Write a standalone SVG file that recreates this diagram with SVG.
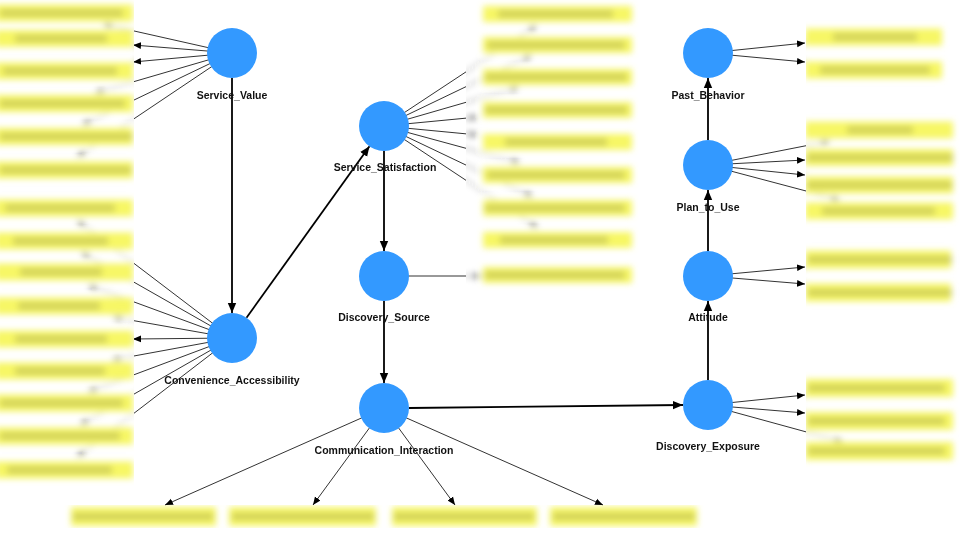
<svg xmlns="http://www.w3.org/2000/svg" xmlns:xlink="http://www.w3.org/1999/xlink" width="960" height="539" viewBox="0 0 960 539">
<style>
.thin{stroke:#333;stroke-width:1;fill:none;marker-end:url(#ah)}
.thick{stroke:#000;stroke-width:1.8;fill:none;marker-end:url(#AH)}
.node{fill:#3399FF}
.lbl{font-family:"Liberation Sans",Arial,sans-serif;font-weight:bold;font-size:10.5px;fill:#111;text-anchor:middle}
.box{fill:#F7F765}
.strip{fill:#A8A850;opacity:0.5}
</style>
<defs>
<marker id="ah" markerUnits="userSpaceOnUse" markerWidth="9" markerHeight="8" refX="8" refY="4" orient="auto"><path d="M0,0.6 L8,4 L0,7.4z" fill="#000"/></marker>
<marker id="AH" markerUnits="userSpaceOnUse" markerWidth="11" markerHeight="10" refX="10" refY="5" orient="auto"><path d="M0,0.8 L10,5 L0,9.2z" fill="#000"/></marker>
<filter id="blur" x="-10%" y="-10%" width="120%" height="120%"><feGaussianBlur stdDeviation="3"/></filter>
<clipPath id="sharp"><path clip-rule="evenodd" d="M-20,-20H980V560H-20Z M-20,-20H134V486H-20Z M466,-20H645V292H466Z M806,18H980V470H806Z"/></clipPath>
<clipPath id="inside"><path d="M-20,-20H134V486H-20Z M466,-20H645V292H466Z M806,18H980V470H806Z"/></clipPath>
</defs>
<rect width="960" height="539" fill="#fff"/>

<g clip-path="url(#sharp)">
<g id="connectors">
<line class="thin" x1="232" y1="53" x2="103" y2="24"/>
<line class="thin" x1="232" y1="53" x2="133" y2="45"/>
<line class="thin" x1="232" y1="53" x2="133" y2="62"/>
<line class="thin" x1="232" y1="53" x2="95" y2="93"/>
<line class="thin" x1="232" y1="53" x2="82" y2="125"/>
<line class="thin" x1="232" y1="53" x2="77" y2="157"/>
<line class="thin" x1="232" y1="338" x2="77" y2="220"/>
<line class="thin" x1="232" y1="338" x2="81" y2="252"/>
<line class="thin" x1="232" y1="338" x2="88" y2="285"/>
<line class="thin" x1="232" y1="338" x2="113" y2="317"/>
<line class="thin" x1="232" y1="338" x2="133" y2="339"/>
<line class="thin" x1="232" y1="338" x2="112" y2="360"/>
<line class="thin" x1="232" y1="338" x2="88" y2="392"/>
<line class="thin" x1="232" y1="338" x2="80" y2="425"/>
<line class="thin" x1="232" y1="338" x2="77" y2="457"/>
<line class="thin" x1="384" y1="126" x2="537" y2="25"/>
<line class="thin" x1="384" y1="126" x2="532" y2="55"/>
<line class="thin" x1="384" y1="126" x2="519" y2="87"/>
<line class="thin" x1="384" y1="126" x2="478" y2="117"/>
<line class="thin" x1="384" y1="126" x2="478" y2="135"/>
<line class="thin" x1="384" y1="126" x2="520" y2="163"/>
<line class="thin" x1="384" y1="126" x2="533" y2="197"/>
<line class="thin" x1="384" y1="126" x2="538" y2="228"/>
<line class="thin" x1="384" y1="276" x2="482" y2="276"/>
<line class="thin" x1="708" y1="53" x2="805" y2="43"/>
<line class="thin" x1="708" y1="53" x2="805" y2="62"/>
<line class="thin" x1="708" y1="165" x2="830" y2="141"/>
<line class="thin" x1="708" y1="165" x2="805" y2="160"/>
<line class="thin" x1="708" y1="165" x2="805" y2="175"/>
<line class="thin" x1="708" y1="165" x2="840" y2="200"/>
<line class="thin" x1="708" y1="276" x2="805" y2="267"/>
<line class="thin" x1="708" y1="276" x2="805" y2="284"/>
<line class="thin" x1="708" y1="405" x2="805" y2="395"/>
<line class="thin" x1="708" y1="405" x2="805" y2="413"/>
<line class="thin" x1="708" y1="405" x2="843" y2="442"/>
<line class="thin" x1="384" y1="408" x2="165" y2="505"/>
<line class="thin" x1="384" y1="408" x2="313" y2="505"/>
<line class="thin" x1="384" y1="408" x2="455" y2="505"/>
<line class="thin" x1="384" y1="408" x2="603" y2="505"/>
<line class="thick" x1="232" y1="78" x2="232" y2="313"/>
<line class="thick" x1="246.5" y1="317.7" x2="369.5" y2="146.3"/>
<line class="thick" x1="384" y1="151" x2="384" y2="251"/>
<line class="thick" x1="384" y1="301" x2="384" y2="383"/>
<line class="thick" x1="409" y1="408" x2="683" y2="405"/>
<line class="thick" x1="708" y1="380" x2="708" y2="301"/>
<line class="thick" x1="708" y1="251" x2="708" y2="190"/>
<line class="thick" x1="708" y1="140" x2="708" y2="78"/>
</g>
</g>

<g clip-path="url(#inside)">
<g filter="url(#blur)">
<use xlink:href="#connectors" href="#connectors" opacity="0.55"/>
<g id="indicators-service-value">
<rect class="box" x="-5" y="4.5" width="138" height="17"/><rect class="strip" x="0" y="9.5" width="123" height="7"/>
<rect class="box" x="-5" y="30" width="138" height="17"/><rect class="strip" x="15" y="35" width="92" height="7"/>
<rect class="box" x="-5" y="62.5" width="138" height="17"/><rect class="strip" x="3" y="67.5" width="114" height="7"/>
<rect class="box" x="-5" y="95" width="138" height="17"/><rect class="strip" x="0" y="100" width="125" height="7"/>
<rect class="box" x="-5" y="128" width="138" height="17"/><rect class="strip" x="0" y="133" width="132" height="7"/>
<rect class="box" x="-5" y="161.5" width="138" height="17"/><rect class="strip" x="0" y="166.5" width="131" height="7"/>
</g>
<g id="indicators-convenience">
<rect class="box" x="-5" y="199.5" width="138" height="17"/><rect class="strip" x="5" y="204.5" width="110" height="7"/>
<rect class="box" x="-5" y="232.5" width="138" height="17"/><rect class="strip" x="13" y="237.5" width="95" height="7"/>
<rect class="box" x="-5" y="263.5" width="138" height="17"/><rect class="strip" x="20" y="268.5" width="82" height="7"/>
<rect class="box" x="-5" y="297.5" width="138" height="17"/><rect class="strip" x="18" y="302.5" width="82" height="7"/>
<rect class="box" x="-5" y="330.5" width="138" height="17"/><rect class="strip" x="15" y="335.5" width="92" height="7"/>
<rect class="box" x="-5" y="362.5" width="138" height="17"/><rect class="strip" x="15" y="367.5" width="90" height="7"/>
<rect class="box" x="-5" y="394.5" width="138" height="17"/><rect class="strip" x="0" y="399.5" width="123" height="7"/>
<rect class="box" x="-5" y="427.5" width="138" height="17"/><rect class="strip" x="0" y="432.5" width="120" height="7"/>
<rect class="box" x="-5" y="461.5" width="138" height="17"/><rect class="strip" x="7" y="466.5" width="105" height="7"/>
</g>
<g id="indicators-satisfaction">
<rect class="box" x="483" y="6" width="149" height="16"/><rect class="strip" x="498" y="10.5" width="115" height="7"/>
<rect class="box" x="483" y="37" width="149" height="16"/><rect class="strip" x="487" y="41.5" width="138" height="7"/>
<rect class="box" x="483" y="69" width="149" height="16"/><rect class="strip" x="485" y="73.5" width="142" height="7"/>
<rect class="box" x="483" y="102" width="149" height="16"/><rect class="strip" x="485" y="106.5" width="142" height="7"/>
<rect class="box" x="483" y="134" width="149" height="16"/><rect class="strip" x="505" y="138.5" width="102" height="7"/>
<rect class="box" x="483" y="167" width="149" height="16"/><rect class="strip" x="487" y="171.5" width="138" height="7"/>
<rect class="box" x="483" y="200" width="149" height="16"/><rect class="strip" x="485" y="204.5" width="140" height="7"/>
<rect class="box" x="483" y="232" width="149" height="16"/><rect class="strip" x="500" y="236.5" width="108" height="7"/>
</g>
<g id="indicators-source">
<rect class="box" x="483" y="267" width="149" height="16"/><rect class="strip" x="485" y="271.5" width="140" height="7"/>
</g>
<g id="indicators-past-behavior">
<rect class="box" x="805" y="28.5" width="137" height="17"/><rect class="strip" x="833" y="33.5" width="84" height="7"/>
<rect class="box" x="805" y="61.5" width="137" height="17"/><rect class="strip" x="820" y="66.5" width="110" height="7"/>
</g>
<g id="indicators-plan">
<rect class="box" x="805" y="121.5" width="148" height="17"/><rect class="strip" x="847" y="126.5" width="66" height="7"/>
<rect class="box" x="805" y="149" width="148" height="17"/><rect class="strip" x="807" y="154" width="146" height="7"/>
<rect class="box" x="805" y="176.5" width="148" height="17"/><rect class="strip" x="807" y="181.5" width="145" height="7"/>
<rect class="box" x="805" y="202.5" width="148" height="17"/><rect class="strip" x="822" y="207.5" width="113" height="7"/>
</g>
<g id="indicators-attitude">
<rect class="box" x="805" y="250.5" width="146" height="18"/><rect class="strip" x="808" y="256" width="144" height="7"/>
<rect class="box" x="805" y="283.5" width="146" height="18"/><rect class="strip" x="808" y="289" width="144" height="7"/>
</g>
<g id="indicators-exposure">
<rect class="box" x="805" y="379" width="148" height="18"/><rect class="strip" x="808" y="384.5" width="137" height="7"/>
<rect class="box" x="805" y="412" width="148" height="18"/><rect class="strip" x="808" y="417.5" width="137" height="7"/>
<rect class="box" x="805" y="442" width="148" height="18"/><rect class="strip" x="808" y="447.5" width="137" height="7"/>
</g>
</g>
</g>

<g id="indicators-communication" filter="url(#blur)">
<rect class="box" x="71" y="507" width="145" height="19"/><rect class="strip" x="73" y="513" width="140" height="7"/>
<rect class="box" x="229" y="507" width="147" height="19"/><rect class="strip" x="232" y="513" width="142" height="7"/>
<rect class="box" x="392" y="507" width="145" height="19"/><rect class="strip" x="394" y="513" width="140" height="7"/>
<rect class="box" x="550" y="507" width="147" height="19"/><rect class="strip" x="553" y="513" width="142" height="7"/>
</g>

<g id="Service_Value"><circle class="node" cx="232" cy="53" r="25"/><text class="lbl" x="232" y="99">Service_Value</text></g>
<g id="Convenience_Accessibility"><circle class="node" cx="232" cy="338" r="25"/><text class="lbl" x="232" y="384">Convenience_Accessibility</text></g>
<g id="Service_Satisfaction"><circle class="node" cx="384" cy="126" r="25"/><text class="lbl" x="385" y="171">Service_Satisfaction</text></g>
<g id="Discovery_Source"><circle class="node" cx="384" cy="276" r="25"/><text class="lbl" x="384" y="321">Discovery_Source</text></g>
<g id="Communication_Interaction"><circle class="node" cx="384" cy="408" r="25"/><text class="lbl" x="384" y="454">Communication_Interaction</text></g>
<g id="Past_Behavior"><circle class="node" cx="708" cy="53" r="25"/><text class="lbl" x="708" y="99">Past_Behavior</text></g>
<g id="Plan_to_Use"><circle class="node" cx="708" cy="165" r="25"/><text class="lbl" x="708" y="211">Plan_to_Use</text></g>
<g id="Attitude"><circle class="node" cx="708" cy="276" r="25"/><text class="lbl" x="708" y="321">Attitude</text></g>
<g id="Discovery_Exposure"><circle class="node" cx="708" cy="405" r="25"/><text class="lbl" x="708" y="450">Discovery_Exposure</text></g>
</svg>
